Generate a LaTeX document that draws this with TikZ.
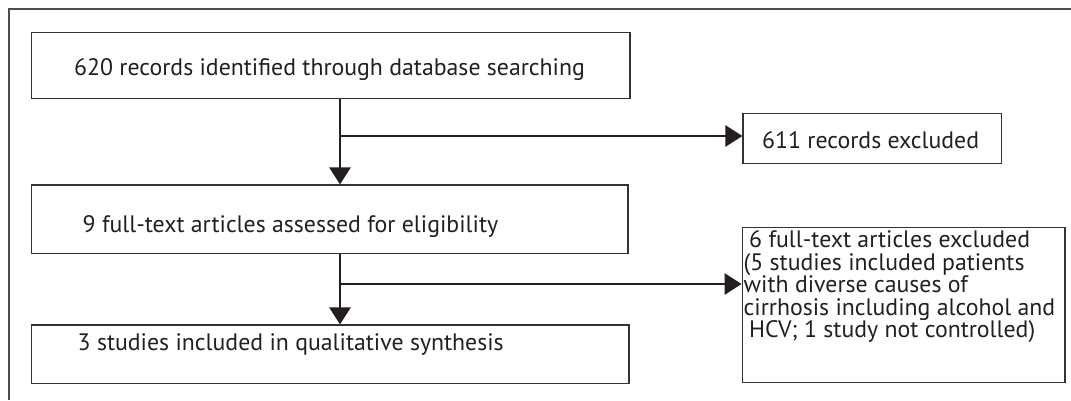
\documentclass[tikz,border=0pt]{standalone}
\usepackage{fontspec}
\setmainfont{PT Sans}
\usetikzlibrary{arrows.meta}
\definecolor{ink}{HTML}{231F20}
\definecolor{framecol}{HTML}{4D4D4D}
\definecolor{boxcol}{HTML}{333333}
\tikzset{
  box/.style={draw=boxcol, line width=1.3pt, inner sep=0pt},
  txt/.style={inner sep=0pt, anchor=base west, text=ink, font=\fontsize{23.8}{22.4}\selectfont},
  conn/.style={draw=ink, line width=1.3pt, -{Triangle[length=17pt, width=21.5pt]}}
}
\begin{document}
\begin{tikzpicture}[x=1pt, y=-1pt]
\useasboundingbox (0,0) rectangle (1071,400);
% outer frame (only top and left edges are inside the picture)
\draw[framecol, line width=2.2pt] (9,400) -- (9,9.3) -- (1071,9.3);
% boxes
\node[box, minimum width=598.5pt, minimum height=66.4pt] (r1) at (330.75,65.5) {};
\node[box, minimum width=596.5pt, minimum height=68.5pt] (r2) at (329.75,219.25) {};
\node[box, minimum width=597.5pt, minimum height=58.7pt] (r3) at (330.25,354.35) {};
\node[box, minimum width=258.7pt, minimum height=50pt] (r611) at (872.35,138.7) {};
\node[box, minimum width=322.8pt, minimum height=155.4pt] (r6) at (903.6,305) {};
% texts
\node[txt] (t1) at (74,75) {620 records identified through database searching};
\node[txt] (t2) at (82.5,232) {9 full-text articles assessed for eligibility};
\node[txt] (t3) at (77.5,350) {3 studies included in qualitative synthesis};
\node[txt] (t611) at (762,148) {611 records excluded};
\node[txt, align=left, anchor=north west] (t6) at (743.5,229.7) {\rule{0pt}{18pt}\hspace*{5.5pt}6 full-text articles excluded\\(5 studies included patients\\with diverse causes of\\cirrhosis including alcohol and\\\hspace*{5.5pt}HCV; 1 study not controlled)};
% connectors
\coordinate (j1) at (340,136);
\coordinate (j2) at (340,284);
\draw[conn] (r1.south -| j1) -- (r2.north -| j1);
\draw[conn] (j1) -- (j1 -| r611.west);
\draw[conn] (r2.south -| j2) -- (r3.north -| j2);
\draw[conn] (j2) -- (j2 -| r6.west);
\end{tikzpicture}
\end{document}
